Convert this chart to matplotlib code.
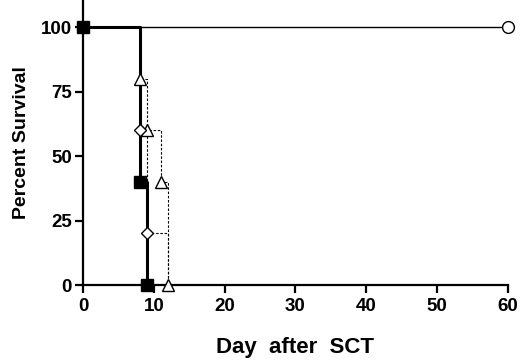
import matplotlib
matplotlib.use("Agg")
import matplotlib.pyplot as plt

plt.rcParams['font.family'] = ['Liberation Sans', 'DejaVu Sans']
plt.rcParams['font.weight'] = 'bold'

# Kaplan-Meier step data (days, percent survival)
circle_days = [0, 60]
circle_surv = [100, 100]

square_days = [0, 8, 9]
square_surv = [100, 40, 0]

diamond_days = [0, 8, 9, 12]
diamond_surv = [100, 60, 20, 0]

triangle_days = [0, 8, 9, 11, 12]
triangle_surv = [100, 80, 60, 40, 0]

x_ticks = [0, 10, 20, 30, 40, 50, 60]
y_ticks = [0, 25, 50, 75, 100]

fig = plt.figure(figsize=(5.2, 3.61), dpi=100)
ax = fig.add_axes([0.1596, 0.2105, 0.8173, 0.7895])

dash = dict(linestyle=(0, (2.2, 1.6)), linewidth=0.8, color='black')

# triangle (dashed)
ax.step(triangle_days, triangle_surv, where='post', **dash, clip_on=False, zorder=2)
ax.plot(triangle_days[1:], triangle_surv[1:], linestyle='none', marker='^', markersize=9,
        markerfacecolor='white', markeredgecolor='black', markeredgewidth=1.0, clip_on=False, zorder=4)

# diamond (dashed)
ax.step(diamond_days, diamond_surv, where='post', **dash, clip_on=False, zorder=2)
ax.plot(diamond_days[1:3], diamond_surv[1:3], linestyle='none', marker='D', markersize=6.5,
        markerfacecolor='white', markeredgecolor='black', markeredgewidth=1.0, clip_on=False, zorder=4)

# circle (thin solid)
ax.plot(circle_days, circle_surv, color='black', linewidth=1.0, clip_on=False, zorder=3)
ax.plot(circle_days[1:], circle_surv[1:], linestyle='none', marker='o', markersize=8.5,
        markerfacecolor='white', markeredgecolor='black', markeredgewidth=1.0, clip_on=False, zorder=5)

# square (thick solid)
ax.step(square_days, square_surv, where='post', color='black', linewidth=2.2, clip_on=False, zorder=3)
ax.plot(square_days, square_surv, linestyle='none', marker='s', markersize=8.5,
        markerfacecolor='black', markeredgecolor='black', clip_on=False, zorder=6)

ax.set_xlim(0, 60)
ax.set_ylim(0, 110.5)
ax.set_xticks(x_ticks)
ax.set_yticks(y_ticks)
ax.set_xticklabels([str(v) for v in x_ticks], fontsize=13.5, fontweight='bold')
ax.set_yticklabels([str(v) for v in y_ticks], fontsize=13.5, fontweight='bold')

for s in ['top', 'right']:
    ax.spines[s].set_visible(False)
for s in ['left', 'bottom']:
    ax.spines[s].set_linewidth(1.6)
ax.tick_params(direction='out', length=6, width=1.6, pad=2)
ax.tick_params(axis='x', pad=3)

ax.set_xlabel('Day  after  SCT', fontsize=16, fontweight='bold', labelpad=16)
ax.set_ylabel('Percent Survival', fontsize=14, fontweight='bold', labelpad=8)

fig.savefig('out.png', dpi=100)
